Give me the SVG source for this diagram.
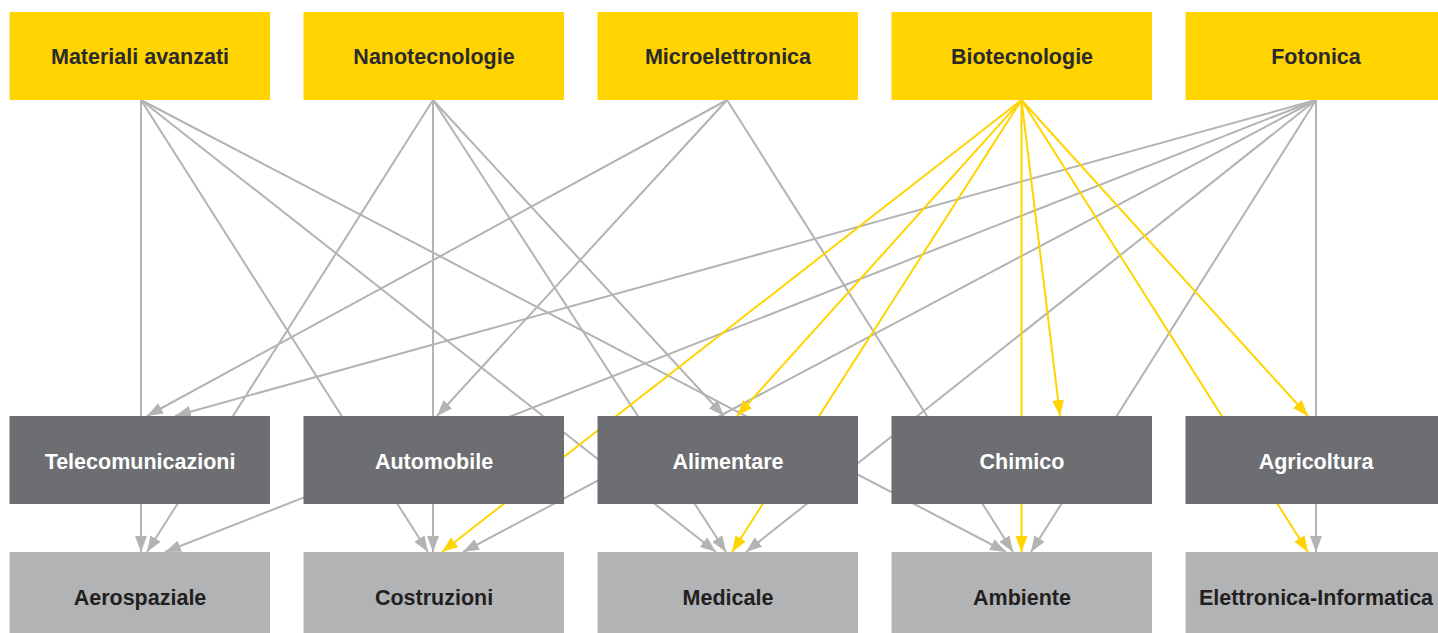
<svg xmlns="http://www.w3.org/2000/svg" width="1438" height="633" viewBox="0 0 1438 633">
<style>
.top{fill:#ffd400}
.mid{fill:#6d6e71}
.bot{fill:#b2b3b5}
text{font-family:"Liberation Sans",Arial,sans-serif;font-weight:bold;font-size:21.5px;text-anchor:middle}
.tt{fill:#2a2a2c}
.mt{fill:#ffffff}
.bt{fill:#231f20}
.g{stroke:#b3b3b3;stroke-width:2;fill:none;marker-end:url(#ag)}
.y{stroke:#ffd400;stroke-width:2;fill:none;marker-end:url(#ay)}
</style>
<defs>
<marker id="ag" viewBox="0 0 16 12" refX="16" refY="6" markerWidth="16" markerHeight="12" markerUnits="userSpaceOnUse" orient="auto"><path d="M0,0 L16,6 L0,12 z" fill="#b3b3b3"/></marker>
<marker id="ay" viewBox="0 0 16 12" refX="16" refY="6" markerWidth="16" markerHeight="12" markerUnits="userSpaceOnUse" orient="auto"><path d="M0,0 L16,6 L0,12 z" fill="#ffd400"/></marker>
</defs>
<rect width="1438" height="633" fill="#ffffff"/>
<g id="connectors">
<line class="g" x1="141" y1="100" x2="141" y2="552"/>
<line class="g" x1="141" y1="100" x2="428" y2="552"/>
<line class="g" x1="141" y1="100" x2="716" y2="552"/>
<line class="g" x1="141" y1="100" x2="1006" y2="552"/>
<line class="g" x1="433" y1="100" x2="147" y2="552"/>
<line class="g" x1="433" y1="100" x2="433" y2="552"/>
<line class="g" x1="433" y1="100" x2="726" y2="552"/>
<line class="g" x1="433" y1="100" x2="724" y2="416"/>
<line class="g" x1="727" y1="100" x2="147" y2="416"/>
<line class="g" x1="727" y1="100" x2="437" y2="416"/>
<line class="g" x1="727" y1="100" x2="1013" y2="552"/>
<line class="g" x1="1316" y1="100" x2="175" y2="416"/>
<line class="g" x1="1316" y1="100" x2="165" y2="552"/>
<line class="g" x1="1316" y1="100" x2="463" y2="552"/>
<line class="g" x1="1316" y1="100" x2="746" y2="552"/>
<line class="g" x1="1316" y1="100" x2="1031" y2="552"/>
<line class="g" x1="1316" y1="100" x2="1316" y2="552"/>
<line class="y" x1="1021.5" y1="100" x2="442" y2="552"/>
<line class="y" x1="1021.5" y1="100" x2="737" y2="416"/>
<line class="y" x1="1021.5" y1="100" x2="732" y2="552"/>
<line class="y" x1="1021.5" y1="100" x2="1021.5" y2="552"/>
<line class="y" x1="1021.5" y1="100" x2="1060" y2="416"/>
<line class="y" x1="1021.5" y1="100" x2="1308" y2="552"/>
<line class="y" x1="1021.5" y1="100" x2="1308" y2="416"/>
</g>
<g id="materiali"><rect class="top" x="9.5" y="12" width="260.5" height="88"/><text class="tt" x="140" y="64">Materiali avanzati</text></g>
<g id="nanotecnologie"><rect class="top" x="303.5" y="12" width="260.5" height="88"/><text class="tt" x="434" y="64">Nanotecnologie</text></g>
<g id="microelettronica"><rect class="top" x="597.5" y="12" width="260.5" height="88"/><text class="tt" x="728" y="64">Microelettronica</text></g>
<g id="biotecnologie"><rect class="top" x="891.5" y="12" width="260.5" height="88"/><text class="tt" x="1022" y="64">Biotecnologie</text></g>
<g id="fotonica"><rect class="top" x="1185.5" y="12" width="260.5" height="88"/><text class="tt" x="1316" y="64">Fotonica</text></g>
<g id="telecomunicazioni"><rect class="mid" x="9.5" y="416" width="260.5" height="88"/><text class="mt" x="140" y="469">Telecomunicazioni</text></g>
<g id="automobile"><rect class="mid" x="303.5" y="416" width="260.5" height="88"/><text class="mt" x="434" y="469">Automobile</text></g>
<g id="alimentare"><rect class="mid" x="597.5" y="416" width="260.5" height="88"/><text class="mt" x="728" y="469">Alimentare</text></g>
<g id="chimico"><rect class="mid" x="891.5" y="416" width="260.5" height="88"/><text class="mt" x="1022" y="469">Chimico</text></g>
<g id="agricoltura"><rect class="mid" x="1185.5" y="416" width="260.5" height="88"/><text class="mt" x="1316" y="469">Agricoltura</text></g>
<g id="aerospaziale"><rect class="bot" x="9.5" y="552" width="260.5" height="90"/><text class="bt" x="140" y="605">Aerospaziale</text></g>
<g id="costruzioni"><rect class="bot" x="303.5" y="552" width="260.5" height="90"/><text class="bt" x="434" y="605">Costruzioni</text></g>
<g id="medicale"><rect class="bot" x="597.5" y="552" width="260.5" height="90"/><text class="bt" x="728" y="605">Medicale</text></g>
<g id="ambiente"><rect class="bot" x="891.5" y="552" width="260.5" height="90"/><text class="bt" x="1022" y="605">Ambiente</text></g>
<g id="elettronica"><rect class="bot" x="1185.5" y="552" width="260.5" height="90"/><text class="bt" x="1316" y="605">Elettronica-Informatica</text></g>
</svg>
